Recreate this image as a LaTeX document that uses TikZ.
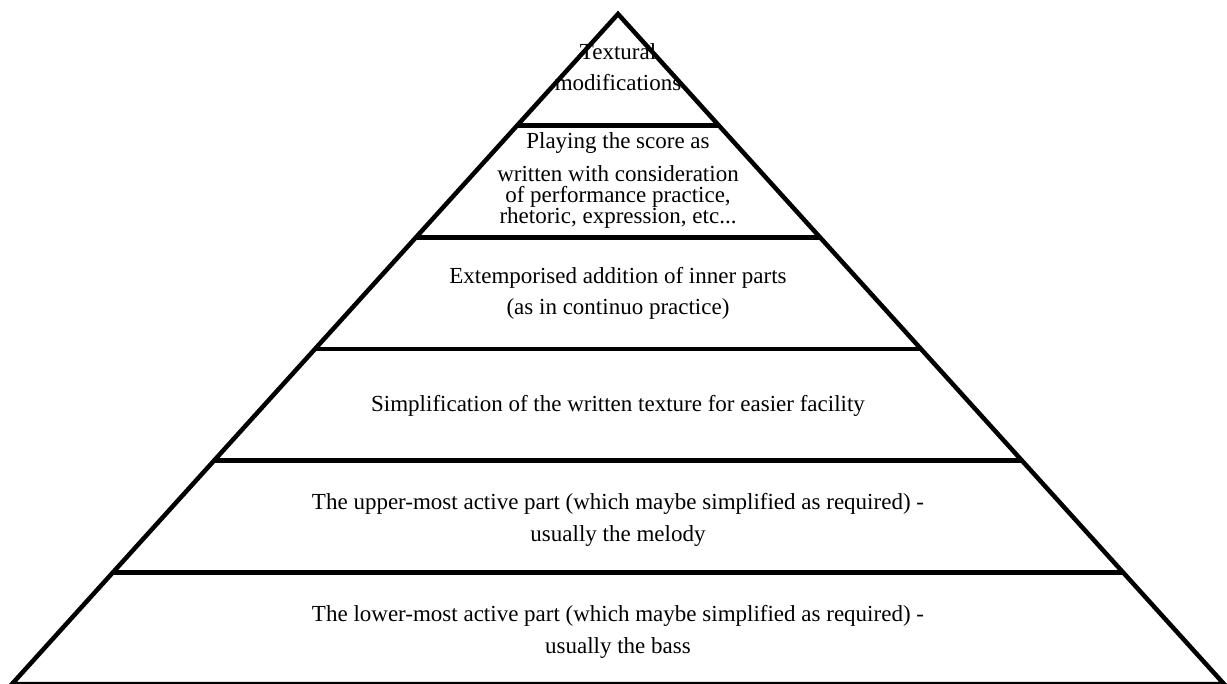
\documentclass[tikz,border=0pt]{standalone}
\usepackage{fontspec}
\setmainfont{Liberation Serif}
\usetikzlibrary{calc}
\begin{document}
\begin{tikzpicture}[x=1pt,y=-1pt,
  edge/.style={line width=4.5pt, line join=miter, line cap=butt},
  lbl/.style={font=\fontsize{23}{31.5}\selectfont, align=center, inner sep=0pt, anchor=base},
  lbltight/.style={font=\fontsize{23}{21}\selectfont, align=center, inner sep=0pt, anchor=base}]
\useasboundingbox (0,0) rectangle (1227,684);
\coordinate (apex) at (618,14);
\coordinate (bl) at (12,684);
\coordinate (br) at (1224,684);
\draw[edge] (apex) -- (bl) -- (br) -- cycle;
\foreach \k in {1,...,5} {
  \coordinate (l\k) at ($(apex)!\k/6!(bl)$);
  \coordinate (r\k) at ($(apex)!\k/6!(br)$);
  \draw[edge] (l\k) -- (r\k);
}
\node[lbl] (t1) at (618,91) {Textural\\modifications};
\node[lbltight] (t2) at (618,224) {Playing the score as\\[12pt]written with consideration\\of performance practice,\\rhetoric, expression, etc...};
\node[lbl] (t3) at (618,315) {Extemporised addition of inner parts\\(as in continuo practice)};
\node[lbl] (t4) at (618,412) {Simplification of the written texture for easier facility};
\node[lbl] (t5) at (618,541) {The upper-most active part (which maybe simplified as required) -\\usually the melody};
\node[lbl] (t6) at (618,653) {The lower-most active part (which maybe simplified as required) -\\usually the bass};
\end{tikzpicture}
\end{document}
